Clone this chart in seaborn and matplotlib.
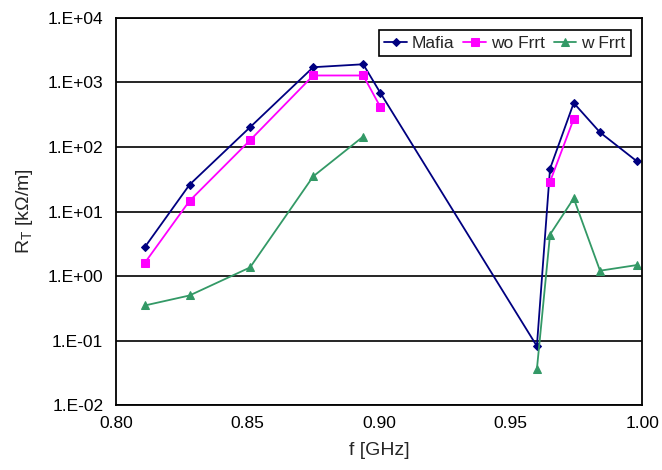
import matplotlib
matplotlib.use("Agg")
import matplotlib.pyplot as plt
import matplotlib.ticker as mticker
import numpy as np
import pandas as pd
import seaborn as sns

sns.set_theme(style="white")
plt.rcParams["font.family"] = ["Liberation Sans", "DejaVu Sans"]
plt.rcParams["mathtext.fontset"] = "custom"
plt.rcParams["mathtext.rm"] = "Liberation Sans"

# frequency [GHz]
freq = [0.811, 0.828, 0.851, 0.875, 0.894, 0.9005, 0.960, 0.965, 0.974, 0.984, 0.998]
# R_T [kOhm/m], NaN where the series has no point
mafia = [2.8, 26, 202, 1720, 1910, 690, 0.082, 46, 480, 168, 60]
wo_frrt = [1.6, 14.6, 127, 1280, 1280, 418, np.nan, 29, 272, np.nan, np.nan]
w_frrt = [0.35, 0.50, 1.36, 35, 145, np.nan, 0.036, 4.4, 16, 1.21, 1.48]

x_ticks = [0.80, 0.85, 0.90, 0.95, 1.00]
y_ticks = [1e-2, 1e-1, 1e0, 1e1, 1e2, 1e3, 1e4]
y_tick_labels = ["1.E-02", "1.E-01", "1.E+00", "1.E+01", "1.E+02", "1.E+03", "1.E+04"]

series = {
    "Mafia": (mafia, "#000080", "D", 4),
    "wo Frrt": (wo_frrt, "#FF00FF", "s", 6),
    "w Frrt": (w_frrt, "#339966", "^", 6),
}


def segments(y):
    # split at missing values so lines break there
    df = pd.DataFrame({"f": freq, "R": y})
    df["seg"] = df["R"].isna().cumsum()
    return df.dropna()


fig, ax = plt.subplots(figsize=(6.62, 4.70), dpi=100)
fig.subplots_adjust(left=0.175, right=0.970, bottom=0.138, top=0.962)

for name, (vals, col, mk, ms) in series.items():
    sns.lineplot(data=segments(vals), x="f", y="R", units="seg", estimator=None,
                 sort=False, color=col, marker=mk, markersize=ms, markeredgecolor=col,
                 linewidth=1.3, label=name, ax=ax, legend=False)

ax.set_yscale("log")
ax.set_ylim(1e-2, 1e4)
ax.set_xlim(0.80, 1.00)
ax.set_xticks(x_ticks, [f"{v:.2f}" for v in x_ticks])
ax.set_yticks(y_ticks, y_tick_labels)
ax.yaxis.set_minor_locator(mticker.NullLocator())

ax.grid(axis="y", color="black", linewidth=1.2)
ax.grid(axis="x", visible=False)
for s in ax.spines.values():
    s.set_color("black")
    s.set_linewidth(1.3)
ax.tick_params(axis="both", labelsize=12.5, colors="black", length=5, width=1.2)
ax.tick_params(axis="x", direction="inout", pad=5)
ax.tick_params(axis="y", direction="out", pad=4)

ax.set_xlabel("f [GHz]", fontsize=14, labelpad=8)
ax.set_ylabel(r"R$_\mathregular{T}$ [kΩ/m]", fontsize=14, labelpad=9)

h, l = ax.get_legend_handles_labels()
uniq = dict(zip(l, h))
leg = ax.legend(uniq.values(), uniq.keys(), ncol=3, loc="upper right",
                bbox_to_anchor=(0.995, 0.99), fontsize=12.5, frameon=True,
                fancybox=False, edgecolor="black", framealpha=1,
                handlelength=1.3, handletextpad=0.3, columnspacing=0.5,
                borderpad=0.3)
leg.get_frame().set_linewidth(1.2)

fig.savefig("out.png", dpi=100)
